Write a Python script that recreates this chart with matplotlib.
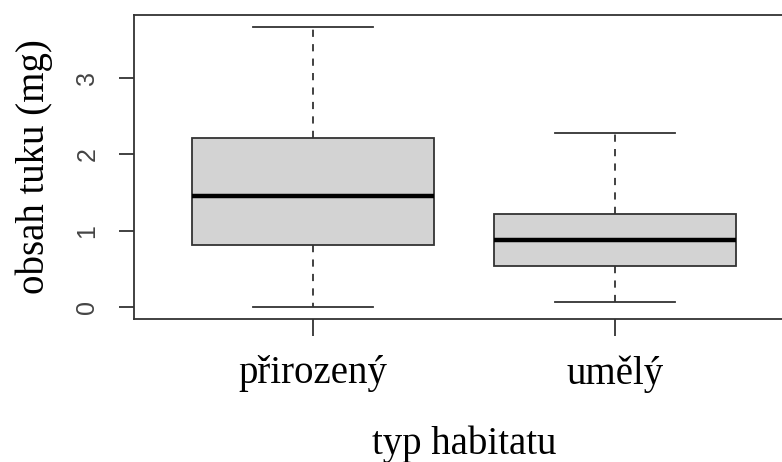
import matplotlib
matplotlib.use("Agg")
import matplotlib.pyplot as plt

# habitat types and box stats
categories = ["přirozený", "umělý"]
whisker_low = [0.00, 0.06]
q1 = [0.81, 0.53]
median = [1.46, 0.88]
q3 = [2.21, 1.22]
whisker_high = [3.67, 2.28]
y_ticks = [0, 1, 2, 3]

stats = []
for i in range(len(categories)):
    stats.append({
        "label": categories[i],
        "whislo": whisker_low[i],
        "q1": q1[i],
        "med": median[i],
        "q3": q3[i],
        "whishi": whisker_high[i],
        "fliers": [],
    })

fig = plt.figure(figsize=(7.82, 4.62), dpi=100)
ax = fig.add_axes([0.1714, 0.3095, 0.844, 0.658])

line_col = "#333333"
ax.bxp(
    stats,
    positions=[1, 2],
    widths=0.8,
    capwidths=0.4,
    patch_artist=True,
    showfliers=False,
    boxprops=dict(facecolor="#d3d3d3", edgecolor=line_col, linewidth=1.3),
    medianprops=dict(color="black", linewidth=3.2, solid_capstyle="butt"),
    whiskerprops=dict(color=line_col, linewidth=1.3, linestyle=(0, (4, 4))),
    capprops=dict(color=line_col, linewidth=1.3),
)

ax.set_xlim(0.407, 2.593)
ax.set_ylim(-0.16, 3.83)

for s in ax.spines.values():
    s.set_color(line_col)
    s.set_linewidth(1.3)

ax.set_yticks(y_ticks)
ax.set_yticklabels([str(t) for t in y_ticks], rotation=90, va="center",
                   family="Liberation Sans", fontsize=18, color="#444444")
ax.set_xticks([1, 2])
ax.set_xticklabels(categories, family="Liberation Serif", fontsize=28)
ax.tick_params(axis="y", length=11, width=1.3, color=line_col, pad=14)
ax.tick_params(axis="x", length=12, width=1.3, color=line_col, pad=14)

ax.set_xlabel("typ habitatu", family="Liberation Serif", fontsize=28, labelpad=24)
ax.set_ylabel("obsah tuku (mg)", family="Liberation Serif", fontsize=28, labelpad=16)

fig.savefig("out.png", dpi=100)
